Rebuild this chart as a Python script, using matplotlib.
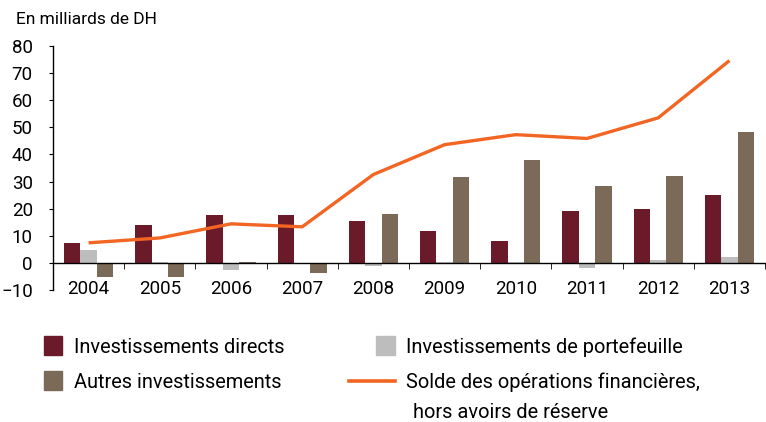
import matplotlib
matplotlib.use("Agg")
import matplotlib.pyplot as plt
from matplotlib.lines import Line2D
from matplotlib.patches import Patch, Rectangle
from matplotlib.legend_handler import HandlerPatch
import numpy as np

plt.rcParams['font.family'] = ['Roboto', 'DejaVu Sans']

years = ['2004', '2005', '2006', '2007', '2008', '2009', '2010', '2011', '2012', '2013']
directs = [7.5, 13.8, 17.5, 17.8, 15.6, 11.9, 8.2, 19.3, 20.0, 25.2]
portefeuille = [4.9, 0.3, -2.7, -0.5, -1.2, 0.2, 0.3, -2.0, 0.9, 2.0]
autres = [-5.3, -5.3, 0.3, -3.9, 18.2, 31.5, 38.1, 28.5, 32.2, 48.1]
solde = [7.4, 9.2, 14.4, 13.3, 32.6, 43.6, 47.3, 45.9, 53.5, 74.6]

c_dir = '#6B1A2A'
c_port = '#BDBDBD'
c_aut = '#7B6A58'
c_solde = '#F26522'

fig = plt.figure(figsize=(7.66, 4.22), dpi=100)
ax = fig.add_axes([53/766, 1 - 290/422, 712/766, 244/422])

x = np.arange(len(years))
w = 0.23
ax.bar(x - w, directs, w, color=c_dir)
ax.bar(x, portefeuille, w, color=c_port)
ax.bar(x + w, autres, w, color=c_aut)
ax.plot(x, solde, color=c_solde, lw=2.4, solid_capstyle='butt')

ax.set_xlim(-0.5, 9.5)
ax.set_ylim(-10, 80)
ax.set_yticks(np.arange(-10, 81, 10))
ax.set_xticks(x)
ax.set_xticklabels(years)
ax.set_xticks(np.arange(0.5, 10, 1), minor=True)

ax.spines['top'].set_visible(False)
ax.spines['right'].set_visible(False)
ax.spines['bottom'].set_position(('data', 0))
ax.spines['left'].set_linewidth(1.0)
ax.spines['bottom'].set_linewidth(1.0)

ax.tick_params(axis='y', direction='out', length=3, pad=11.5, labelsize=13.5)
ax.tick_params(axis='x', which='major', length=0, pad=12, labelsize=13.5)
ax.tick_params(axis='x', which='minor', direction='out', length=4)

fig.text(16/766, 1 - 20/422, 'En milliards de DH', fontsize=12.5, va='center', ha='left')


def square_right(legend, orig_handle, xdescent, ydescent, width, height, fontsize):
    s = 13
    return Rectangle((width - s - xdescent, (height - s) / 2 - ydescent), s, s)


handles = [
    Patch(color=c_dir),
    Patch(color=c_aut),
    Patch(color=c_port),
    Line2D([], [], color=c_solde, lw=2.6),
]
labels = [
    'Investissements directs',
    'Autres investissements',
    'Investissements de portefeuille',
    'Solde des opérations financières,',
]
fig.legend(handles, labels, ncol=2, loc='upper left',
           bbox_to_anchor=(16/766, 1 - 337/422), frameon=False,
           borderpad=0, borderaxespad=0,
           fontsize=14.4, handlelength=2.3, handletextpad=0.6,
           columnspacing=3.2, labelspacing=0.8,
           handler_map={Patch: HandlerPatch(patch_func=square_right)})
fig.text(408/766, 1 - 412/422, ' hors avoirs de réserve', fontsize=14.4,
         va='center', ha='left')

fig.savefig('out.png', dpi=100)
